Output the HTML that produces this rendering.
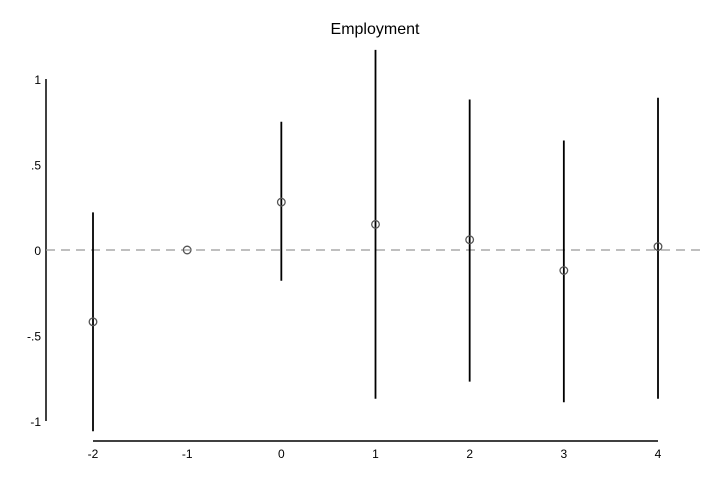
<!DOCTYPE html>
<html><head><meta charset="utf-8"><style>
html,body{margin:0;padding:0;background:#fff;}
svg{display:block;font-family:"Liberation Sans",Arial,sans-serif;}
</style></head><body>
<svg id="chart" width="723" height="482">
<text x="375" y="34" text-anchor="middle" font-size="16" fill="#000">Employment</text>
<line x1="46" y1="79" x2="46" y2="421" stroke="#000" stroke-width="1.5"/>
<line x1="93" y1="441" x2="658" y2="441" stroke="#000" stroke-width="1.5"/>
<g id="yt"></g>
<g id="xt"></g>
<line id="zero" stroke="#999" stroke-dasharray="9,6" stroke-width="1.2"/>
<g id="marks"></g>
</svg>
<script>
const periods=[-2,-1,0,1,2,3,4];
const estimates=[-0.42,0,0.28,0.15,0.06,-0.12,0.02];
const ciLow=[-1.06,null,-0.18,-0.87,-0.77,-0.89,-0.87];
const ciHigh=[0.22,null,0.75,1.17,0.88,0.64,0.89];
const yTicks=[1,0.5,0,-0.5,-1];
const yTickLabels=["1",".5","0","-.5","-1"];
const NS="http://www.w3.org/2000/svg";
function sx(v){return 93+(v+2)*(658-93)/6;}
function sy(v){return 250-v*171;}
function mk(t,a,p){const e=document.createElementNS(NS,t);for(const k in a)e.setAttribute(k,a[k]);p.appendChild(e);return e;}
const yt=document.getElementById('yt'),xt=document.getElementById('xt'),marks=document.getElementById('marks');
yTicks.forEach((v,i)=>{const t=mk('text',{x:41,y:sy(v)+5,'text-anchor':'end','font-size':12,fill:'#000'},yt);t.textContent=yTickLabels[i];

});
periods.forEach(p=>{const t=mk('text',{x:sx(p),y:458,'text-anchor':'middle','font-size':12,fill:'#000'},xt);t.textContent=String(p);

});
const z=document.getElementById('zero');z.setAttribute('x1',46);z.setAttribute('x2',706);z.setAttribute('y1',sy(0));z.setAttribute('y2',sy(0));
periods.forEach((p,i)=>{
 if(ciLow[i]!==null){const l=mk('line',{x1:sx(p),x2:sx(p),y1:sy(ciHigh[i]),y2:sy(ciLow[i]),stroke:'#000','stroke-width':1.8},marks);
 
 }
 const c=mk('circle',{cx:sx(p),cy:sy(estimates[i]),r:3.8,fill:'none',stroke:'#555','stroke-width':1.3},marks);
 
 
});
</script>
</body></html>
